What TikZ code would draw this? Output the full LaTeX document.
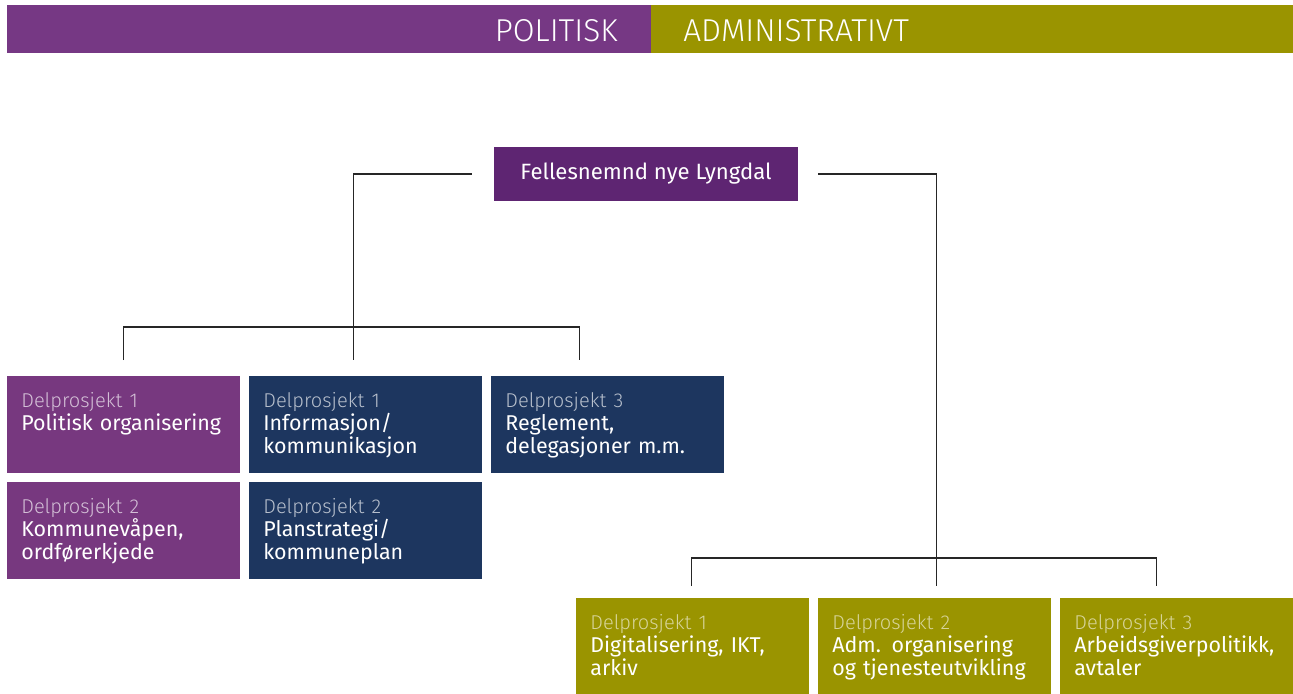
\documentclass[tikz,border=0pt]{standalone}
\usepackage{fontspec}
\setmainfont{Fira Sans}
\newfontfamily\lightfont{Fira Sans Light}
\newfontfamily\headfont{Fira Sans Light}
\usetikzlibrary{calc}

\definecolor{headpurp}{HTML}{763884}
\definecolor{toppurp}{HTML}{5E2572}
\definecolor{purp}{HTML}{77387F}
\definecolor{navy}{HTML}{1D365F}
\definecolor{olive}{HTML}{9A9400}

% heading line in light font, then the topic
\newcommand{\delp}[2]{{\lightfont\fontsize{11.4}{13.1}\selectfont\color{sub}Delprosjekt #1}\\#2}

\tikzset{
  box/.style={anchor=north west, inner xsep=0.28cm, inner ysep=0pt,
    text width=4.1cm, text height=0.62cm, text depth=1.32cm, align=left,
    text=white, font=\fontsize{12.2}{13.1}\selectfont},
  pbox/.style={box, fill=purp, execute at begin node=\colorlet{sub}{white!68!purp}},
  nbox/.style={box, fill=navy, execute at begin node=\colorlet{sub}{white!68!navy}},
  obox/.style={box, fill=olive, execute at begin node=\colorlet{sub}{white!60!olive}},
  conn/.style={draw=black!85, line width=0.6pt}
}

\begin{document}
\begin{tikzpicture}[x=0.02cm, y=-0.02cm]

    \useasboundingbox (0,0) rectangle (1293,693);

    % heading band
    \fill[headpurp] (7,5) rectangle (651,53);
    \fill[olive] (651,5) rectangle (1293,53);
    \node[anchor=base east, text=white, inner sep=0pt, font=\headfont\fontsize{18}{18}\selectfont] (pol) at (618,41) {POLITISK};
    \node[anchor=base west, text=white, inner sep=0pt, font=\headfont\fontsize{18}{18}\selectfont] (adm) at (683,41) {ADMINISTRATIVT};

    % steering committee
    \node[fill=toppurp, text=white, minimum width=6.08cm, minimum height=1.08cm, inner sep=0pt,
      font=\fontsize{12.6}{13}\selectfont] (top) at (646,174) {Fellesnemnd nye Lyngdal};

    % political sub-projects
    \node[pbox] (p1) at (7,376) {\delp{1}{Politisk organisering}};
    \node[pbox] (p2) at (7,482) {\delp{2}{Kommunevåpen,\\ordførerkjede}};
    \node[nbox] (n1) at (249,376) {\delp{1}{Informasjon/\\kommunikasjon}};
    \node[nbox] (n2) at (249,482) {\delp{2}{Planstrategi/\\kommuneplan}};
    \node[nbox] (n3) at (491,376) {\delp{3}{Reglement,\\delegasjoner m.m.}};

    % administrative sub-projects
    \node[obox] (a1) at (576,598) {\delp{1}{Digitalisering, IKT,\\arkiv}};
    \node[obox] (a2) at (818,598) {\delp{2}{Adm. organisering\\og tjenesteutvikling}};
    \node[obox] (a3) at (1060,598) {\delp{3}{Arbeidsgiverpolitikk,\\avtaler}};

    % connectors, left side
    \coordinate (lh) at (353,327);
    \draw[conn] ($(top.west)+(-22,0)$) -| ($(n1.north)+(-12.5,-16)$);
    \draw[conn] ($(p1.north)+(0,-16)$) |- (lh) -| ($(n3.north)+(-28.5,-16)$);

    % connectors, right side
    \coordinate (rh) at (936,558);
    \draw[conn] ($(top.east)+(20,0)$) -| ($(a2.north)+(1.5,-12)$);
    \draw[conn] ($(a1.north)+(-1.5,-12)$) |- (rh) -| ($(a3.north)+(-20.5,-12)$);

\end{tikzpicture}
\end{document}
